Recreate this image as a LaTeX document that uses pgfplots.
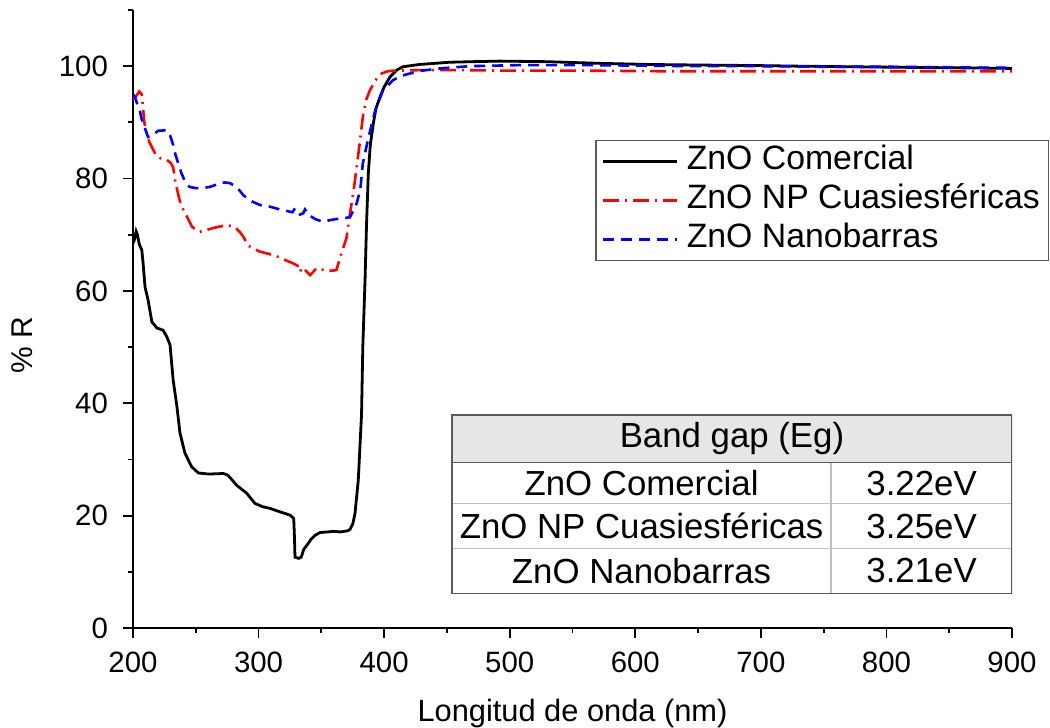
\documentclass[border=0pt]{standalone}
\usepackage{fontspec}
\setmainfont{Liberation Sans}
\usepackage{pgfplots}
\pgfplotsset{compat=1.18}

\definecolor{tblhead}{RGB}{230,230,230}
\definecolor{tblline}{RGB}{190,190,190}
\definecolor{boxline}{RGB}{90,90,90}

\begin{document}
\begin{tikzpicture}
\begin{axis}[
    scale only axis,
    width=439.5pt, height=309pt,
    xmin=200, xmax=900, ymin=0, ymax=110,
    axis x line*=bottom, axis y line*=left,
    axis line style={line width=1pt,-},
    xtick={200,300,...,900}, ytick={0,20,...,100},
    minor xtick={250,350,...,850}, minor ytick={10,30,...,110},
    tick align=outside,
    major tick length=5pt, minor tick length=2.6pt,
    every tick/.style={black,line width=0.9pt},
    /pgf/number format/assume math mode=true,
    tick label style={font=\fontsize{14.7}{16}\selectfont},
    xticklabel style={yshift=-3.5pt},
    yticklabel style={xshift=-4pt},
    xlabel={Longitud de onda (nm)},
    ylabel={\% R},
    xlabel style={font=\fontsize{15.4}{17}\selectfont, at={(axis description cs:0.5,-0.152)}, anchor=base},
    ylabel style={font=\fontsize{15}{17}\selectfont, at={(axis description cs:-0.126,0.458)}, anchor=center},
    legend cell align=left,
    legend style={at={(rel axis cs:0.526,0.79)}, anchor=north west,
        draw=boxline, line width=0.6pt, inner xsep=3pt, inner ysep=1pt,
        font=\fontsize{16.9}{19}\selectfont,
        nodes={inner sep=1.5pt, text height=12.3pt, text depth=3.6pt},
        row sep=0.6pt, column sep=2.5pt},
    legend image code/.code={\draw[#1] (0pt,0pt) -- (37pt,0pt);},
]
\addplot[black, line width=1.4pt] coordinates {
(200,68.5) (201,69) (202.5,70.6) (203.5,70) (205,68.3) (207,67.3) (208,65)
(209.6,60.7) (212,58.4) (215,54.5) (219,53.4) (224,53) (227,51.8) (229.5,50.4)
(232,44.1) (235,39.4) (237.4,34.7) (241.4,31.1) (246.7,28.7) (252,27.6) (260,27.4)
(272,27.5) (275.6,27.2) (282.6,25.4) (290.5,24) (297,22.2) (303,21.6) (309,21.3)
(318,20.6) (325,20.1) (328,19.5) (328.6,16) (329,12.6) (332,12.4) (334,12.6)
(336,14) (340,15.2) (341.5,15.7) (345,16.5) (349,17) (355,17.1) (360,17.2)
(365,17.1) (371,17.3) (373,17.6) (375,18.5) (376.8,20.4) (379.4,26.3) (382,38)
(383,50) (384.8,62) (386,72) (387.4,80.9) (389,86) (391.4,89.8) (393.5,92.5)
(396.7,94.5) (400,96.3) (404.7,98.1) (410,99.3) (415,99.9) (428,100.3) (440,100.5)
(452,100.7) (470,100.8) (492,100.9) (530,100.8) (572,100.5) (612,100.3) (652,100.2)
(700,100.1) (731,100) (770,99.9) (811,99.8) (860,99.7) (900,99.6)
};
\addlegendentry{ZnO Comercial}
\addplot[red, line width=1.3pt, dash pattern=on 8pt off 3pt on 1pt off 3pt] coordinates {
(200,94) (202,94.5) (205,95.5) (207,95) (209,90) (211,88) (213,86.5) (215,85.6)
(219,83.9) (223,83.5) (227,83.3) (230,82.8) (232,82) (233.5,79.7) (237,76.2)
(240,74.5) (243,73.2) (247,71.4) (253,70.5) (258,70.8) (264,71.2) (270,71.5)
(275,71.7) (281,71.4) (285,70.5) (288,69.6) (291.6,68.1) (296,67.5) (301,67)
(308,66.6) (314,66.2) (320,65.6) (327.5,64.9) (331,64.5) (333,63.4) (335,64.2)
(338,63.5) (341,62.8) (344,63.5) (346,64) (350,63.8) (354,63.7) (358,63.6)
(362,63.7) (366,66.7) (370,69.4) (372.8,73.8) (375.4,77.4) (378.1,82) (380.8,86.8)
(383.4,91.6) (386,94.2) (388.7,95.7) (393,97.5) (398,98.7) (403,99.1) (407,99.2)
(430,99.3) (460,99.3) (500,99.2) (560,99.2) (620,99.1) (700,99.1) (800,99.1) (900,99.1)
};
\addlegendentry{ZnO NP Cuasiesféricas}
\addplot[blue, line width=1.3pt, dash pattern=on 5.5pt off 3.5pt] coordinates {
(200,95) (201.6,94.5) (203,93.5) (205.6,91.9) (207,90.5) (209.6,88.9) (212,87.4)
(215,87.6) (220,88.5) (227,88.6) (229.5,87.7) (232,86) (233.5,84.5) (236,82.7)
(238.5,81) (241,79.7) (245,78.5) (250,78.3) (255,78.3) (261,78.5) (265,78.8)
(269,79.2) (273,79.3) (277,79.2) (282.6,78.5) (288,77) (294,76) (301,75.3)
(309,75) (317,74.5) (325,74.1) (327,74) (329,74.7) (331,74.2) (333,73.6)
(335.5,73.8) (337,74.5) (340,73.5) (345,72.8) (351,72.3) (357,72.6) (362,72.8)
(366,72.9) (370,73) (373,73.2) (375,74.1) (378,75.5) (381,78) (383,82.7)
(387,86.8) (390,89.5) (393,92.2) (399,95.7) (407,97.5) (414,98.3) (420.6,98.7)
(430,99.2) (444.5,99.6) (468,100) (510,100.2) (560,100.2) (600,100.1) (650,100)
(700,100) (750,99.9) (800,99.9) (850,99.8) (900,99.7)
};
\addlegendentry{ZnO Nanobarras}

% band gap table
\fill[tblhead] (axis cs:454,29.5) rectangle (axis cs:900,37.9);
\draw[tblline, line width=0.6pt] (axis cs:454,22.1) -- (axis cs:900,22.1)
    (axis cs:454,14.1) -- (axis cs:900,14.1)
    (axis cs:755.9,29.5) -- (axis cs:755.9,6.2);
\draw[boxline, line width=0.6pt] (axis cs:454,29.5) -- (axis cs:900,29.5);
\draw[boxline, line width=0.6pt] (axis cs:454,6.2) rectangle (axis cs:900,37.9);
\begin{scope}[every node/.style={font=\fontsize{17.4}{19}\selectfont, anchor=center}]
\node at (axis cs:677,33.7) {Band gap (Eg)};
\node at (axis cs:605,25.8) {ZnO Comercial};
\node at (axis cs:828,25.8) {3.22eV};
\node at (axis cs:605,18.1) {ZnO NP Cuasiesféricas};
\node at (axis cs:828,18.1) {3.25eV};
\node at (axis cs:605,10.15) {ZnO Nanobarras};
\node at (axis cs:828,10.15) {3.21eV};
\end{scope}
\coordinate (O) at (rel axis cs:0,0);
\end{axis}
\pgfresetboundingbox
\path[use as bounding box] ([shift={(-66.5pt,-50pt)}]O) rectangle ([shift={(458.5pt,314pt)}]O);
\end{tikzpicture}
\end{document}
